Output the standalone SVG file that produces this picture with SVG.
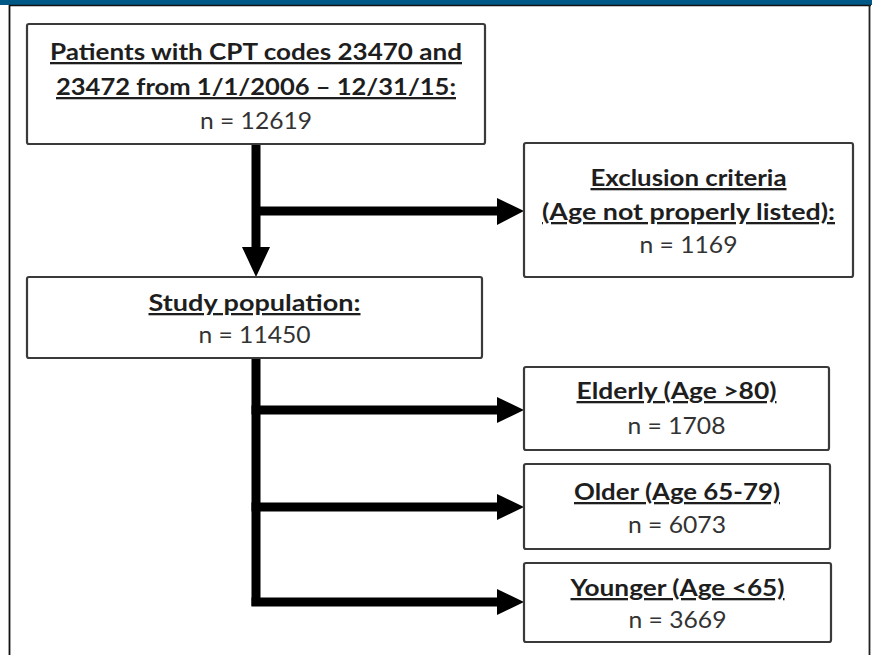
<svg xmlns="http://www.w3.org/2000/svg" width="872" height="655" viewBox="0 0 872 655">
<defs>
<style>
.box{fill:#fff;stroke:#3a3a3a;stroke-width:2.2}
.h{font-family:Lato,"Open Sans","Liberation Sans",sans-serif;font-weight:bold;font-size:23px;fill:#1e1e1e;text-anchor:middle;text-decoration:underline}
.n{font-family:Lato,"Open Sans","Liberation Sans",sans-serif;font-size:23px;fill:#333;text-anchor:middle}
.c{stroke:#000;stroke-width:9;fill:none}
.ah{fill:#000}
</style>
</defs>
<rect x="0" y="0" width="872" height="655" fill="#fff"/>
<rect x="0" y="0" width="872" height="5" fill="#005886"/>
<line x1="9" y1="5.5" x2="871" y2="5.5" stroke="#111" stroke-width="1.5"/>
<line x1="9.5" y1="5" x2="9.5" y2="655" stroke="#111" stroke-width="1.8"/>
<line x1="869.5" y1="5" x2="869.5" y2="655" stroke="#222" stroke-width="1.8"/>

<g id="connectors">
<line class="c" x1="256" y1="144" x2="256" y2="250"/>
<polygon class="ah" points="242,247 270,247 256,277"/>
<line class="c" x1="256" y1="211" x2="499" y2="211"/>
<polygon class="ah" points="497,198 497,225 524,211"/>
<line class="c" x1="256" y1="358" x2="256" y2="606"/>
<line class="c" x1="251.5" y1="410" x2="499" y2="410"/>
<polygon class="ah" points="497,397 497,423 524,410"/>
<line class="c" x1="251.5" y1="507" x2="499" y2="507"/>
<polygon class="ah" points="497,494 497,520 524,507"/>
<line class="c" x1="251.5" y1="602" x2="499" y2="602"/>
<polygon class="ah" points="497,589 497,615 524,602"/>
</g>

<g id="patients">
<rect class="box" x="27" y="24" width="458" height="120" rx="2"/>
<text class="h" x="256" y="60" textLength="412" lengthAdjust="spacingAndGlyphs">Patients with CPT codes 23470 and</text>
<text class="h" x="256" y="95" textLength="400" lengthAdjust="spacingAndGlyphs">23472 from 1/1/2006 – 12/31/15:</text>
<text class="n" x="256" y="129" textLength="112" lengthAdjust="spacingAndGlyphs">n = 12619</text>
</g>

<g id="exclusion">
<rect class="box" x="524" y="143" width="329" height="134" rx="2"/>
<text class="h" x="688.5" y="186" textLength="196" lengthAdjust="spacingAndGlyphs">Exclusion criteria</text>
<text class="h" x="688.5" y="220" textLength="293" lengthAdjust="spacingAndGlyphs">(Age not properly listed):</text>
<text class="n" x="688.5" y="253" textLength="98" lengthAdjust="spacingAndGlyphs">n = 1169</text>
</g>

<g id="study">
<rect class="box" x="27" y="277" width="455" height="81" rx="2"/>
<text class="h" x="254.5" y="311" textLength="212" lengthAdjust="spacingAndGlyphs">Study population:</text>
<text class="n" x="254.5" y="343" textLength="112" lengthAdjust="spacingAndGlyphs">n = 11450</text>
</g>

<g id="elderly">
<rect class="box" x="524" y="367" width="305" height="83" rx="2"/>
<text class="h" x="676.5" y="399" textLength="200" lengthAdjust="spacingAndGlyphs">Elderly (Age &gt;80)</text>
<text class="n" x="676.5" y="434" textLength="98" lengthAdjust="spacingAndGlyphs">n = 1708</text>
</g>

<g id="older">
<rect class="box" x="524" y="464" width="306" height="85" rx="2"/>
<text class="h" x="677" y="500" textLength="206" lengthAdjust="spacingAndGlyphs">Older (Age 65-79)</text>
<text class="n" x="677" y="533" textLength="98" lengthAdjust="spacingAndGlyphs">n = 6073</text>
</g>

<g id="younger">
<rect class="box" x="524" y="563" width="307" height="79" rx="2"/>
<text class="h" x="677.5" y="596" textLength="214" lengthAdjust="spacingAndGlyphs">Younger (Age &lt;65)</text>
<text class="n" x="677.5" y="628" textLength="98" lengthAdjust="spacingAndGlyphs">n = 3669</text>
</g>
</svg>
